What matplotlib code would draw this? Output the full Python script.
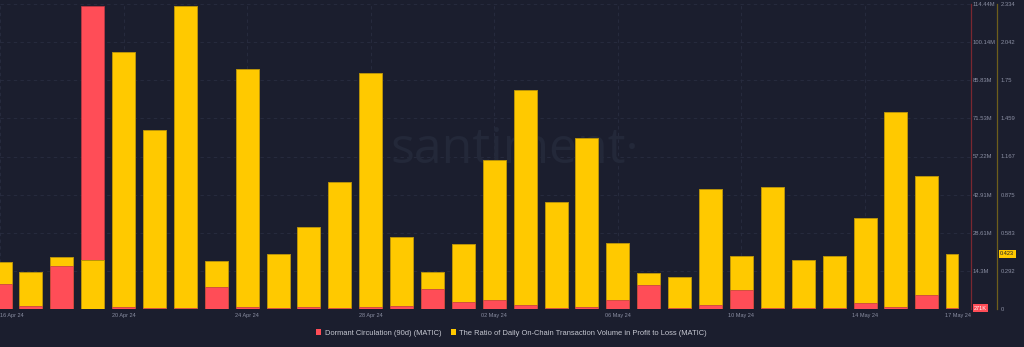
import matplotlib
matplotlib.use('Agg')
import matplotlib.pyplot as plt
from matplotlib.patches import Patch

# one bar per day, 16 Apr 24 .. 17 May 24 (day index = position on the x axis)
days = list(range(32))

# Dormant Circulation (90d), MATIC
dormant = [9.27e6, 1.24e6, 16.25e6, 113.6e6, 0.86e6, 0.38e6, 0.38e6, 8.14e6,
           0.86e6, 0.38e6, 0.75e6, 0.19e6, 0.75e6, 1.13e6, 7.39e6, 2.74e6,
           3.26e6, 1.50e6, 0.38e6, 0.75e6, 3.49e6, 9.01e6, 0.49e6, 1.39e6,
           7.02e6, 0.19e6, 0.19e6, 0.38e6, 2.14e6, 0.86e6, 5.25e6, 0.271e6]

# ratio of daily on-chain transaction volume in profit to loss
ratio = [0.357, 0.286, 0.395, 0.375, 1.964, 1.370, 2.316, 0.367,
         1.834, 0.421, 0.625, 0.969, 1.808, 0.549, 0.286, 0.500,
         1.143, 1.676, 0.821, 1.311, 0.505, 0.278, 0.243, 0.918,
         0.408, 0.931, 0.373, 0.406, 0.694, 1.510, 1.015, 0.423]

tick_days = [0, 4, 8, 12, 16, 20, 24, 28, 31]
tick_labels = ['16 Apr 24', '20 Apr 24', '24 Apr 24', '28 Apr 24', '02 May 24',
               '06 May 24', '10 May 24', '14 May 24', '17 May 24']

dormant_ticks = [0, 14.3e6, 28.61e6, 42.91e6, 57.22e6, 71.53e6, 85.83e6, 100.14e6, 114.44e6]
dormant_tick_labels = ['', '14.3M', '28.61M', '42.91M', '57.22M', '71.53M',
                       '85.83M', '100.14M', '114.44M']
ratio_ticks = [0, 0.292, 0.583, 0.875, 1.167, 1.459, 1.75, 2.042, 2.334]
ratio_tick_labels = ['0', '0.292', '0.583', '0.875', '1.167', '1.459', '1.75', '2.042', '2.334']

BG = '#1b1e2e'
RED = '#ff4d57'
YELLOW = '#ffc900'
GRID = '#292d41'
TXT = '#8a8ea2'
FONT = 'Liberation Sans'

plt.rcParams['font.family'] = [FONT, 'DejaVu Sans']

fig = plt.figure(figsize=(10.24, 3.47), dpi=100, facecolor=BG)
ax = fig.add_axes([0.0, 38 / 347, 971 / 1024, 305 / 347])
ax.set_facecolor(BG)
axr = ax.twinx()  # dormant circulation scale (spine at plot edge)

ax.set_xlim(0.0, 31.43)
ax.set_ylim(0, ratio_ticks[-1])
axr.set_ylim(0, dormant_ticks[-1])

# bars: last day is only half drawn
w = 0.745
widths = [w] * (len(days) - 1) + [w / 2]
lefts = [d - w / 2 for d in days]

ybars = ax.bar(lefts, ratio, width=widths, align='edge', color=YELLOW,
               edgecolor='#b8920a', linewidth=0.7)
rbars = ax.bar(lefts, dormant, width=widths, align='edge', color=RED,
               edgecolor='#c03a44', linewidth=0.5, transform=axr.transData)

# shorter bar goes in front
for i in days:
    fr = dormant[i] / dormant_ticks[-1]
    fy = ratio[i] / ratio_ticks[-1]
    if fr < fy:
        rbars[i].set_zorder(3)
        ybars[i].set_zorder(2)
    else:
        rbars[i].set_zorder(2)
        ybars[i].set_zorder(3)

# grid
for t in ratio_ticks[1:]:
    ax.axhline(t, color=GRID, lw=0.6, ls=(0, (4, 4)), zorder=0)
for d in tick_days[:-1]:
    ax.axvline(d, color=GRID, lw=0.6, ls=(0, (4, 4)), zorder=0)

# watermark
ax.text(0.53, 0.52, 'santiment·', transform=ax.transAxes, ha='center', va='center',
        fontsize=36, color='#232839', family='Open Sans', zorder=1)

# x axis
ax.set_xticks(tick_days)
ax.set_xticklabels(tick_labels)
ax.tick_params(axis='x', length=0, pad=3, labelsize=4, labelcolor=TXT)
ax.get_xticklabels()[0].set_horizontalalignment('left')

# ratio axis: right, pushed outward
ax.yaxis.tick_right()
ax.set_yticks(ratio_ticks)
ax.set_yticklabels(ratio_tick_labels)
ax.tick_params(axis='y', length=0, pad=2.9, labelsize=4.2, labelcolor=TXT)
for s in ['top', 'left', 'bottom']:
    ax.spines[s].set_visible(False)
ax.spines['right'].set_position(('outward', 18.7))
ax.spines['right'].set_color('#6e5e1c')
ax.spines['right'].set_linewidth(0.9)

# dormant axis
axr.set_yticks(dormant_ticks)
axr.set_yticklabels(dormant_tick_labels)
axr.tick_params(axis='y', length=0, pad=1.4, labelsize=4.2, labelcolor=TXT)
for s in ['top', 'left', 'bottom']:
    axr.spines[s].set_visible(False)
axr.spines['right'].set_color('#7a2730')
axr.spines['right'].set_linewidth(0.9)

# last value tags
axr.annotate('271K', xy=(1.0, dormant[-1]), xycoords=axr.get_yaxis_transform(),
             xytext=(2.2, 0), textcoords='offset points', ha='left', va='center',
             fontsize=4, color='white',
             bbox=dict(boxstyle='square,pad=0.25', fc=RED, ec='none'))
ax.annotate('0.423', xy=(1.0, ratio[-1]), xycoords=ax.get_yaxis_transform(),
            xytext=(21.0, 0), textcoords='offset points', ha='left', va='center',
            fontsize=4, color='#1b1e2e',
            bbox=dict(boxstyle='square,pad=0.25', fc=YELLOW, ec='none'))

# legend
handles = [Patch(facecolor=RED, edgecolor='none',
                 label='Dormant Circulation (90d) (MATIC)'),
           Patch(facecolor=YELLOW, edgecolor='none',
                 label='The Ratio of Daily On-Chain Transaction Volume in Profit to Loss (MATIC)')]
leg = fig.legend(handles=handles, loc='center', bbox_to_anchor=(0.4995, 0.04), ncol=2,
                 frameon=False, fontsize=5.45, handlelength=0.7, handleheight=0.7,
                 handletextpad=0.4, columnspacing=1.3)
for t in leg.get_texts():
    t.set_color('#c6c8d2')

fig.savefig('out.png', dpi=100, facecolor=BG)
